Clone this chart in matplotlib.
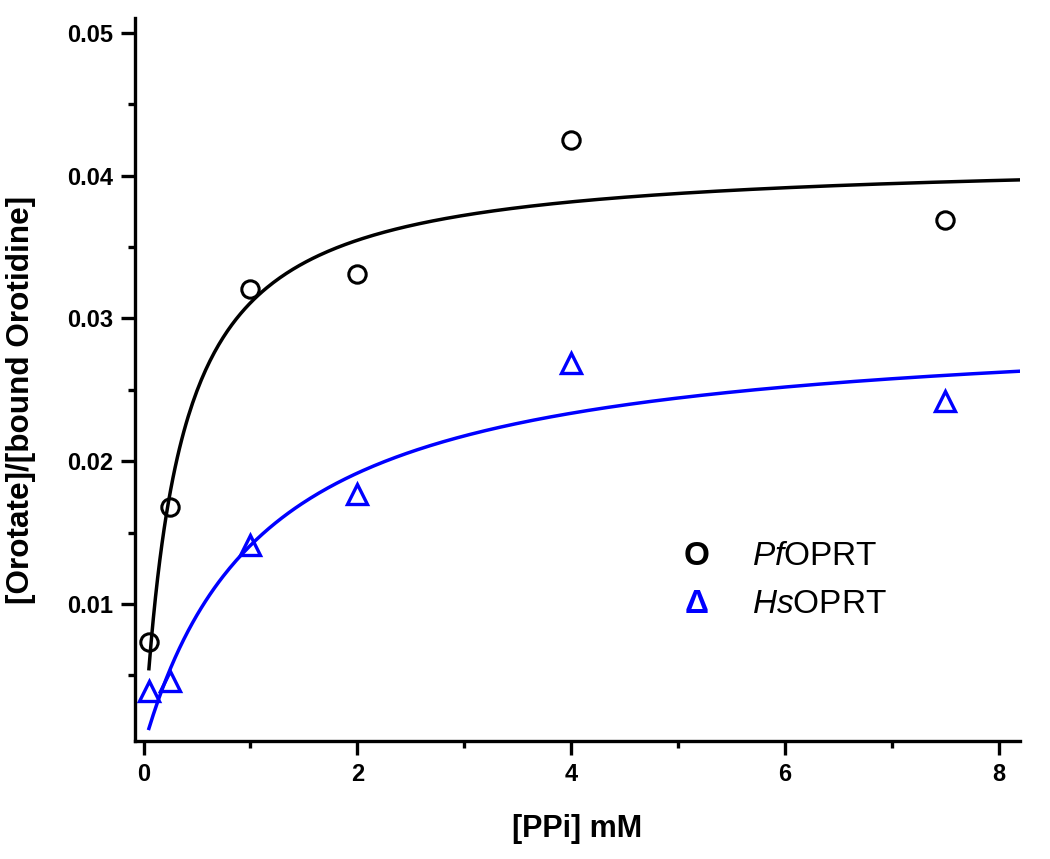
import numpy as np
import matplotlib
matplotlib.use('Agg')
import matplotlib.pyplot as plt
from matplotlib.ticker import MultipleLocator, FormatStrFormatter

# PPi concentration (mM)
ppi = [0.05, 0.25, 1, 2, 4, 7.5]
pf_ratio = [0.0073, 0.0168, 0.0321, 0.0331, 0.0425, 0.0369]
hs_ratio = [0.0039, 0.0046, 0.0141, 0.0177, 0.0269, 0.0242]

# hyperbolic fit parameters (Vmax, Km)
pf_vmax, pf_km = 0.0413, 0.328
hs_vmax, hs_km = 0.0299, 1.12

plt.rcParams['font.family'] = ['Liberation Sans', 'DejaVu Sans']
plt.rcParams['font.weight'] = 'bold'
plt.rcParams['mathtext.fontset'] = 'custom'
plt.rcParams['mathtext.rm'] = 'Liberation Sans:normal'
plt.rcParams['mathtext.it'] = 'Liberation Sans:italic:normal'

fig = plt.figure(figsize=(10.5, 8.59), dpi=100)
ax = fig.add_axes([0.1286, 0.1374, 0.8428, 0.8416])

xfit = np.linspace(0.05, 8.2, 400)
ax.plot(xfit, pf_vmax * xfit / (pf_km + xfit), color='black', lw=2.5)
ax.plot(xfit, hs_vmax * xfit / (hs_km + xfit), color='blue', lw=2.5)

ax.plot(ppi, pf_ratio, 'o', ms=12.5, mfc='none', mec='black', mew=2.2)
ax.plot(ppi, hs_ratio, '^', ms=14.5, mfc='none', mec='blue', mew=2.4)

ax.set_xlim(-0.08, 8.2)
ax.set_ylim(0.0004, 0.05105)

for side in ['top', 'right']:
    ax.spines[side].set_visible(False)
for side in ['left', 'bottom']:
    ax.spines[side].set_linewidth(2.4)

ax.xaxis.set_major_locator(MultipleLocator(2))
ax.xaxis.set_minor_locator(MultipleLocator(1))
ax.yaxis.set_major_locator(MultipleLocator(0.01))
ax.yaxis.set_minor_locator(MultipleLocator(0.005))
ax.yaxis.set_major_formatter(FormatStrFormatter('%.2f'))
ax.tick_params(which='major', direction='out', length=10, width=2.4, pad=6, labelsize=17)
ax.tick_params(which='minor', direction='out', length=5, width=2.4)

ax.set_xlabel('[PPi] mM', fontsize=22, fontweight='bold', labelpad=20)
ax.set_ylabel('[Orotate]/[bound Orotidine]', fontsize=22.7, fontweight='bold')
ax.yaxis.set_label_coords(-0.112, 0.472)

# legend drawn as text, like the original
ax.text(0.635, 0.2545, 'O', transform=ax.transAxes, fontsize=24,
        ha='center', va='center', color='black', fontweight='bold')
ax.text(0.697, 0.2545, r'$\it{Pf}$OPRT', transform=ax.transAxes, fontsize=24,
        ha='left', va='center', color='black', fontweight='normal')
ax.text(0.635, 0.189, 'Δ', transform=ax.transAxes, fontsize=24,
        ha='center', va='center', color='blue', fontweight='bold')
ax.text(0.697, 0.189, r'$\it{Hs}$OPRT', transform=ax.transAxes, fontsize=24,
        ha='left', va='center', color='black', fontweight='normal')

plt.savefig('out.png', dpi=100)
